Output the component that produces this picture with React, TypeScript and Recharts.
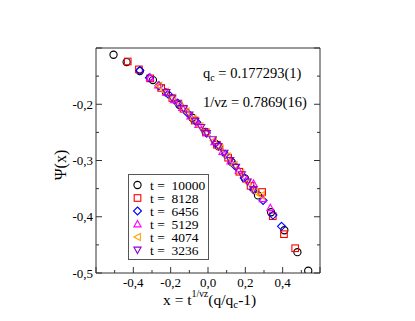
import { ScatterChart, Scatter, XAxis, YAxis } from "recharts";

// scaled data, one array pair per run length t
const series = ["t = 10000", "t =  8128", "t =  6456", "t =  5129", "t =  4074", "t =  3236"];
const tValues = ["10000", "8128", "6456", "5129", "4074", "3236"];

const x10000 = [-0.506, -0.436, -0.365, -0.295, -0.225, -0.154, -0.084, -0.013, 0.057, 0.127, 0.198, 0.268, 0.338, 0.409, 0.479, 0.537];
const y10000 = [-0.112, -0.125, -0.141, -0.157, -0.179, -0.201, -0.224, -0.249, -0.275, -0.303, -0.332, -0.362, -0.392, -0.424, -0.463, -0.496];

const x8128 = [-0.43, -0.37, -0.31, -0.251, -0.191, -0.131, -0.071, -0.011, 0.048, 0.108, 0.168, 0.228, 0.29, 0.347, 0.407, 0.467];
const y8128 = [-0.124, -0.138, -0.154, -0.171, -0.189, -0.208, -0.229, -0.25, -0.272, -0.295, -0.32, -0.345, -0.356, -0.399, -0.431, -0.456];

const x6456 = [-0.365, -0.314, -0.263, -0.213, -0.162, -0.111, -0.06, -0.009, 0.041, 0.092, 0.143, 0.194, 0.244, 0.295, 0.348, 0.394];
const y6456 = [-0.14, -0.153, -0.167, -0.182, -0.198, -0.215, -0.232, -0.251, -0.269, -0.289, -0.309, -0.331, -0.352, -0.371, -0.397, -0.417];

const x5129 = [-0.31, -0.267, -0.224, -0.181, -0.138, -0.094, -0.051, -0.008, 0.035, 0.078, 0.121, 0.165, 0.207, 0.244, 0.294, 0.334];
const y5129 = [-0.152, -0.166, -0.179, -0.192, -0.206, -0.221, -0.236, -0.251, -0.267, -0.284, -0.301, -0.318, -0.334, -0.341, -0.368, -0.384];

const x4074 = [-0.263, -0.227, -0.19, -0.154, -0.117, -0.08, -0.043, -0.007, 0.03, 0.066, 0.103, 0.14, 0.176, 0.213, 0.25, 0.286];
const y4074 = [-0.167, -0.178, -0.189, -0.201, -0.213, -0.226, -0.239, -0.251, -0.265, -0.279, -0.293, -0.308, -0.323, -0.339, -0.355, -0.362];

const x3236 = [-0.223, -0.193, -0.162, -0.131, -0.1, -0.068, -0.037, -0.006, 0.025, 0.056, 0.088, 0.119, 0.15, 0.181, 0.212, 0.243];
const y3236 = [-0.179, -0.189, -0.198, -0.208, -0.219, -0.23, -0.241, -0.252, -0.263, -0.275, -0.287, -0.3, -0.312, -0.325, -0.338, -0.352];

const xTicks = [-0.6, -0.5, -0.4, -0.3, -0.2, -0.1, 0, 0.1, 0.2, 0.3, 0.4, 0.5, 0.6];
const xLabels = [-0.4, -0.2, 0, 0.2, 0.4];
const yTicks = [-0.5, -0.45, -0.4, -0.35, -0.3, -0.25, -0.2, -0.15, -0.1];
const yLabels = [-0.5, -0.4, -0.3, -0.2];

const COLORS = ["#000000", "#ff0000", "#0000ff", "#ff00ff", "#ffa500", "#9400d3"];
const SHAPES = ["circle", "square", "diamond", "up", "left", "down"];

const FONT = "'Liberation Serif', 'Times New Roman', serif";
const AXIS = "#333";

const toPoints = (xs: number[], ys: number[]) => xs.map((x, i) => ({ x, y: ys[i] }));
const DATA = [
  toPoints(x10000, y10000),
  toPoints(x8128, y8128),
  toPoints(x6456, y6456),
  toPoints(x5129, y5129),
  toPoints(x4074, y4074),
  toPoints(x3236, y3236),
];

const fmt = (v: number) => v.toFixed(1).replace(".", ",");
const isMajorX = (v: number) => Math.abs(Math.round(v * 10)) % 2 === 0;
const isMajorY = (v: number) => Math.abs(Math.round(v * 100)) % 10 === 0;
const has = (arr: number[], v: number) => arr.some((a) => Math.abs(a - v) < 1e-6);

function Marker({ cx, cy, shape, color }: { cx: number; cy: number; shape: string; color: string }) {
  const p = { fill: "none", stroke: color, strokeWidth: 1.1 };
  const s = 3.6;
  switch (shape) {
    case "circle":
      return <circle cx={cx} cy={cy} r={3.6} {...p} />;
    case "square":
      return <rect x={cx - 3.3} y={cy - 3.3} width={6.6} height={6.6} {...p} />;
    case "diamond":
      return <polygon points={`${cx},${cy - s - 0.4} ${cx + s + 0.4},${cy} ${cx},${cy + s + 0.4} ${cx - s - 0.4},${cy}`} {...p} />;
    case "up":
      return <polygon points={`${cx},${cy - s} ${cx + s},${cy + s * 0.8} ${cx - s},${cy + s * 0.8}`} {...p} />;
    case "left":
      return <polygon points={`${cx - s},${cy} ${cx + s * 0.8},${cy - s} ${cx + s * 0.8},${cy + s}`} {...p} />;
    default:
      return <polygon points={`${cx},${cy + s} ${cx + s},${cy - s * 0.8} ${cx - s},${cy - s * 0.8}`} {...p} />;
  }
}

const BottomTick = ({ x, y, payload }: any) => {
  const v = payload.value;
  return (
    <g>
      <line x1={x} x2={x} y1={y} y2={y - (isMajorX(v) ? 6 : 3)} stroke={AXIS} />
      {has(xLabels, v) && (
        <text x={x} y={y + 13.5} textAnchor="middle" fontSize={13} fontFamily={FONT} fill="#000">
          {fmt(v)}
        </text>
      )}
    </g>
  );
};

const TopTick = ({ x, y, payload }: any) => (
  <line x1={x} x2={x} y1={y} y2={y + (isMajorX(payload.value) ? 6 : 3)} stroke={AXIS} />
);

const LeftTick = ({ x, y, payload }: any) => {
  const v = payload.value;
  return (
    <g>
      <line x1={x} x2={x + (isMajorY(v) ? 6 : 3)} y1={y} y2={y} stroke={AXIS} />
      {has(yLabels, v) && (
        <text x={x - 3} y={y + 4.5} textAnchor="end" fontSize={13} fontFamily={FONT} fill="#000">
          {fmt(v)}
        </text>
      )}
    </g>
  );
};

const RightTick = ({ x, y, payload }: any) => (
  <line x1={x} x2={x - (isMajorY(payload.value) ? 6 : 3)} y1={y} y2={y} stroke={AXIS} />
);

export default function App() {
  return (
    <div style={{ position: "absolute", left: 0, top: 0, width: 415, height: 321, background: "#fff", fontFamily: FONT }}>
      <ScatterChart width={415} height={321} margin={{ top: 38, right: 85, bottom: 18, left: 56 }}>
        <XAxis
          xAxisId="b"
          dataKey="x"
          type="number"
          domain={[-0.6, 0.6]}
          ticks={xTicks}
          interval={0}
          allowDataOverflow
          height={30}
          tickSize={0}
          tickMargin={0}
          tickLine={false}
          tick={BottomTick}
          axisLine={{ stroke: AXIS }}
        />
        <XAxis
          xAxisId="t"
          orientation="top"
          type="number"
          domain={[-0.6, 0.6]}
          ticks={xTicks}
          interval={0}
          allowDataOverflow
          height={10}
          tickSize={0}
          tickMargin={0}
          tickLine={false}
          tick={TopTick}
          axisLine={{ stroke: AXIS }}
        />
        <YAxis
          yAxisId="l"
          dataKey="y"
          type="number"
          domain={[-0.5, -0.1]}
          ticks={yTicks}
          interval={0}
          allowDataOverflow
          width={40}
          tickSize={0}
          tickMargin={0}
          tickLine={false}
          tick={LeftTick}
          axisLine={{ stroke: AXIS }}
        />
        <YAxis
          yAxisId="r"
          orientation="right"
          type="number"
          domain={[-0.5, -0.1]}
          ticks={yTicks}
          interval={0}
          allowDataOverflow
          width={10}
          tickSize={0}
          tickMargin={0}
          tickLine={false}
          tick={RightTick}
          axisLine={{ stroke: AXIS }}
        />
        {DATA.map((d, i) => (
          <Scatter
            key={series[i]}
            name={series[i]}
            data={d}
            xAxisId="b"
            yAxisId="l"
            isAnimationActive={false}
            shape={(props: any) => <Marker cx={props.cx} cy={props.cy} shape={SHAPES[i]} color={COLORS[i]} />}
          />
        ))}
      </ScatterChart>

      <svg width={415} height={321} style={{ position: "absolute", left: 0, top: 0, pointerEvents: "none" }} fontFamily={FONT}>
        <text x={203} y={78} fontSize={14.5} fill="#000">
          q<tspan fontSize={10} dy={3}>c</tspan>
          <tspan dy={-3}> = 0.177293(1)</tspan>
        </text>
        <text x={203} y={106.5} fontSize={14.5} fill="#000">
          1/νz = 0.7869(16)
        </text>
        <text x={163} y={305} fontSize={15.5} fill="#000">
          x = t<tspan fontSize={10} dy={-8.5}>1/νz</tspan>
          <tspan dy={8.5}>(q/q</tspan>
          <tspan fontSize={11} dy={3}>c</tspan>
          <tspan dy={-3}>-1)</tspan>
        </text>
        <text x={62} y={165} fontSize={16} fill="#000" textAnchor="middle" dominantBaseline="middle" transform="rotate(-90 62 165)">
          Ψ(x)
        </text>

        <rect x={128.5} y={174.5} width={80} height={85} fill="#fff" stroke="#555" />
        {tValues.map((t, i) => (
          <g key={t}>
            <Marker cx={137.5} cy={185 + i * 13} shape={SHAPES[i]} color={COLORS[i]} />
            <text x={150} y={189.5 + i * 13} fontSize={13.5} fill="#000">
              t =
            </text>
            <text x={171.5} y={189.5 + i * 13} fontSize={13.5} fill="#000">
              {t}
            </text>
          </g>
        ))}
      </svg>
    </div>
  );
}
